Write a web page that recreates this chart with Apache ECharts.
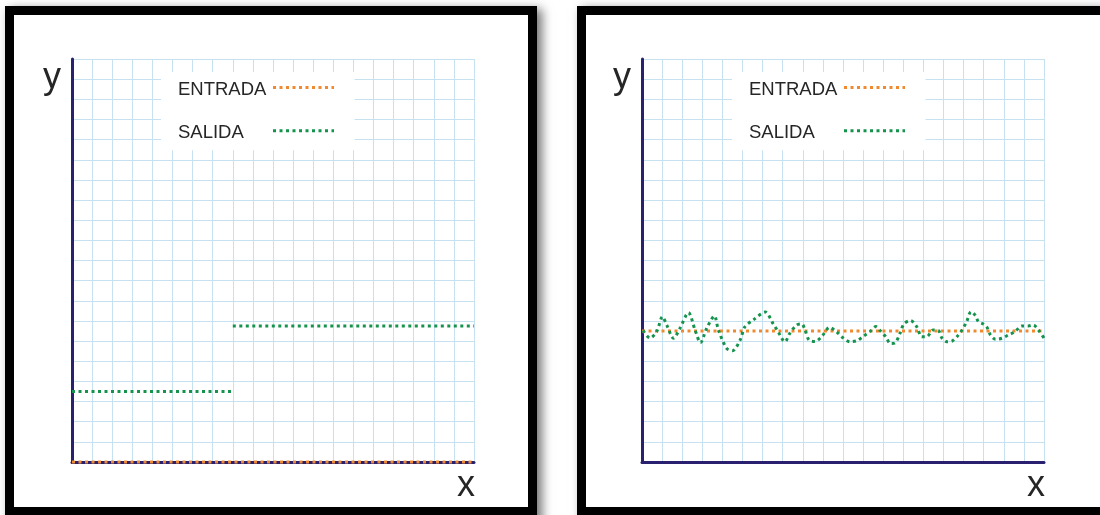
<!DOCTYPE html>
<html>
<head>
<meta charset="utf-8">
<script src="https://cdn.jsdelivr.net/npm/echarts@6/dist/echarts.min.js"></script>
<style>
  html, body { margin: 0; padding: 0; background: #ffffff; }
  #chart { width: 1100px; height: 515px; }
</style>
</head>
<body>
<div id="chart"></div>
<script>
// ---- data ----------------------------------------------------------
const seriesNames = ['ENTRADA', 'SALIDA'];
const axisNames = ['x', 'y'];
const axisMin = 0;
const axisMax = 20;
const gridStep = 1;

// Left panel: input held at zero, output shown as two flat levels
const entradaLeftX = [0, 20];
const entradaLeftY = [0, 0];
const salidaLeftX = [0, 8, 8, 8, 20];
const salidaLeftY = [3.5, 3.5, null, 6.75, 6.75];

// Right panel: constant input, output oscillating around it
const entradaRightX = [0, 20];
const entradaRightY = [6.5, 6.5];
const salidaRightX = [0.05, 0.40, 0.73, 1.02, 1.23, 1.57, 1.89, 2.31, 2.64, 2.91,
  3.22, 3.60, 3.80, 4.21, 4.50, 4.88, 5.12, 5.54, 6.13, 6.53,
  6.77, 7.11, 7.36, 7.70, 7.95, 8.11, 8.31, 8.61, 8.96, 9.33,
  9.69, 9.95, 10.35, 10.70, 11.01, 11.34, 11.64, 11.89, 12.14, 12.36,
  12.59, 12.84, 13.03, 13.36, 13.67, 13.92, 14.16, 14.49, 14.74, 14.93,
  15.17, 15.42, 15.67, 15.92, 16.15, 16.37, 16.59, 16.74, 16.98, 17.15,
  17.34, 17.59, 17.91, 18.22, 18.56, 18.89, 19.22, 19.47, 19.72, 20.0];
const salidaRightY = [6.53, 6.15, 6.47, 7.21, 6.80, 6.14, 6.64, 7.41, 6.55, 5.92,
  6.64, 7.25, 6.55, 5.64, 5.52, 6.05, 6.71, 7.05, 7.44, 6.85,
  6.47, 5.96, 6.40, 6.80, 6.85, 6.55, 6.05, 5.98, 6.25, 6.68,
  6.45, 6.20, 5.97, 6.02, 6.24, 6.47, 6.72, 6.47, 6.20, 5.88,
  5.91, 6.40, 6.85, 7.02, 6.71, 6.22, 6.22, 6.55, 6.53, 6.14,
  5.97, 6.00, 6.22, 6.55, 6.96, 7.46, 7.27, 6.96, 6.85, 6.71,
  6.30, 6.09, 6.14, 6.30, 6.47, 6.75, 6.75, 6.80, 6.55, 6.15];

// ---- styling -------------------------------------------------------
const FONT = '"Liberation Sans", Arial, Helvetica, sans-serif';
const NAVY = '#2a2070';
const GRID_LINE = '#c6e2f1';
const ORANGE = '#ef8a30';
const GREEN = '#15934c';
const DOTS = [3, 3.5];
const TEXT = '#262626';

const pair = (xs, ys) => xs.map((x, i) => [x, ys[i]]);

const gridLefts = [72, 642];
const legendLefts = [161, 732];

function makeXAxis(i) {
  return {
    gridIndex: i, type: 'value', min: axisMin, max: axisMax, interval: gridStep,
    axisLine: { show: true, onZero: false, lineStyle: { color: NAVY, width: 3 } },
    axisTick: { show: false }, axisLabel: { show: false },
    splitLine: { show: true, lineStyle: { color: GRID_LINE, width: 1 } },
    name: axisNames[0], nameLocation: 'end', nameGap: 1,
    nameTextStyle: { fontFamily: FONT, fontSize: 36, color: TEXT, align: 'right', verticalAlign: 'top', padding: [6, 0, 0, 0] }
  };
}
function makeYAxis(i) {
  return {
    gridIndex: i, type: 'value', min: axisMin, max: axisMax, interval: gridStep,
    axisLine: { show: true, onZero: false, lineStyle: { color: NAVY, width: 3 } },
    axisTick: { show: false }, axisLabel: { show: false },
    splitLine: { show: true, lineStyle: { color: GRID_LINE, width: 1 } },
    name: axisNames[1], nameLocation: 'end', nameGap: -19,
    nameTextStyle: { fontFamily: FONT, fontSize: 36, color: TEXT, align: 'right', verticalAlign: 'middle', padding: [0, 11, 0, 0] }
  };
}
function makeLegend(i) {
  return {
    data: seriesNames, orient: 'vertical', left: legendLefts[i], top: 72,
    padding: [8, 19, 8, 17], itemGap: 24, itemWidth: 61, itemHeight: 19, align: 'right',
    backgroundColor: '#ffffff', selectedMode: false,
    itemStyle: { opacity: 0 },
    lineStyle: { width: 3, type: DOTS, cap: 'butt' },
    formatter: '{t|{name}}',
    textStyle: {
      fontFamily: FONT, fontSize: 18.5, color: TEXT,
      rich: { t: { width: 90, align: 'left', padding: [4, 0, 0, 0], fontFamily: FONT, fontSize: 18.5, color: TEXT } }
    }
  };
}
function lineSeries(name, panel, data, color, z, extra) {
  return Object.assign({
    name: name, type: 'line', xAxisIndex: panel, yAxisIndex: panel,
    data: data, symbol: 'none', showSymbol: false, silent: true,
    connectNulls: false, z: z,
    lineStyle: { color: color, width: 3, type: DOTS, cap: 'butt' },
    itemStyle: { color: color }
  }, extra || {});
}

// Black picture frames with a soft drop shadow
function frame(x, w) {
  return [
    { type: 'rect', z: -20, silent: true, shape: { x: x, y: 6, width: w, height: 520 },
      style: { fill: '#000', shadowBlur: 10, shadowOffsetX: 5, shadowOffsetY: 3, shadowColor: 'rgba(0,0,0,0.55)' } },
    { type: 'rect', z: -19, silent: true, shape: { x: x + 9, y: 15, width: w - 18, height: 492 },
      style: { fill: '#fff' } }
  ];
}

const chart = echarts.init(document.getElementById('chart'), null, { renderer: 'canvas' });
chart.setOption({
  backgroundColor: '#ffffff',
  animation: false,
  graphic: frame(5, 532).concat(frame(577, 532)),
  grid: [0, 1].map(i => ({
    left: gridLefts[i], top: 59, width: 402, height: 403,
    containLabel: false, outerBoundsMode: 'none'
  })),
  xAxis: [makeXAxis(0), makeXAxis(1)],
  yAxis: [makeYAxis(0), makeYAxis(1)],
  legend: [makeLegend(0), makeLegend(1)],
  series: [
    lineSeries(seriesNames[0], 0, pair(entradaLeftX, entradaLeftY), ORANGE, 4, { clip: false }),
    lineSeries(seriesNames[1], 0, pair(salidaLeftX, salidaLeftY), GREEN, 3),
    lineSeries(seriesNames[0], 1, pair(entradaRightX, entradaRightY), ORANGE, 3),
    lineSeries(seriesNames[1], 1, pair(salidaRightX, salidaRightY), GREEN, 4, { smooth: 0.3 })
  ]
});
</script>
</body>
</html>
